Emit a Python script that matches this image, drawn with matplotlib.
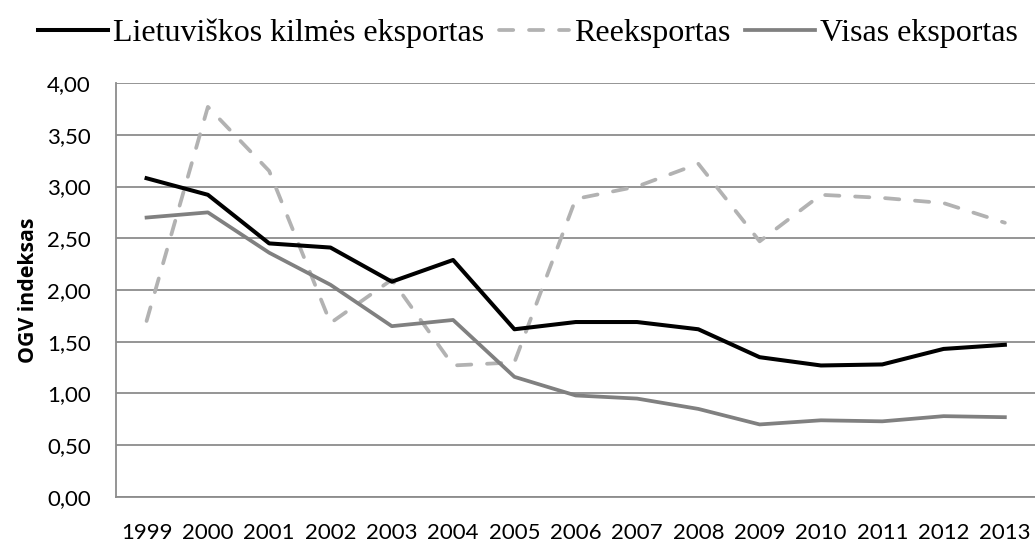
import matplotlib.pyplot as plt

years = ["1999", "2000", "2001", "2002", "2003", "2004", "2005", "2006",
         "2007", "2008", "2009", "2010", "2011", "2012", "2013"]
lietuviskos = [3.08, 2.92, 2.45, 2.41, 2.08, 2.29, 1.62, 1.69, 1.69, 1.62,
               1.35, 1.27, 1.28, 1.43, 1.47]
reeksportas = [1.70, 3.77, 3.15, 1.68, 2.10, 1.27, 1.30, 2.88, 3.00, 3.22,
               2.47, 2.92, 2.89, 2.84, 2.65]
visas = [2.70, 2.75, 2.36, 2.05, 1.65, 1.71, 1.16, 0.98, 0.95, 0.85,
         0.70, 0.74, 0.73, 0.78, 0.77]
yticks = [0, 0.5, 1.0, 1.5, 2.0, 2.5, 3.0, 3.5, 4.0]

fig = plt.figure(figsize=(10.35, 5.43), dpi=100)
ax = fig.add_axes([0.112, 0.085, 0.8885, 0.762])

x = range(len(years))
ax.plot(x, lietuviskos, color="black", lw=2.9, label="Lietuviškos kilmės eksportas", zorder=4)
ax.plot(x, reeksportas, color="#b2b2b2", lw=2.7, dashes=(3.8, 4.2), dash_capstyle="round",
        label="Reeksportas", zorder=3)
ax.plot(x, visas, color="#808080", lw=2.7, label="Visas eksportas", zorder=3)

ax.set_xlim(-0.5, len(years) - 0.5)
ax.set_ylim(0, 4)
ax.set_yticks(yticks)
ax.set_yticklabels([f"{v:.2f}".replace(".", ",") for v in yticks])
ax.set_xticks(list(x))
ax.set_xticklabels(years)
ax.grid(axis="y", color="#8c8c8c", lw=1.3)
ax.set_axisbelow(True)
for s in ["top", "right"]:
    ax.spines[s].set_visible(False)
for s in ["left", "bottom"]:
    ax.spines[s].set_color("#8c8c8c")
    ax.spines[s].set_linewidth(1.3)
ax.tick_params(length=0, labelsize=16)
ax.tick_params(axis="x", pad=19)
ax.tick_params(axis="y", pad=18)
for lab in ax.get_xticklabels() + ax.get_yticklabels():
    lab.set_fontfamily("Lato")
ax.set_ylabel("OGV indeksas", fontsize=15.3, fontweight="bold", fontfamily="Open Sans")
ax.yaxis.set_label_coords(-0.084, 0.5)

fig.legend(loc="upper center", bbox_to_anchor=(0.51, 1.018), ncol=3, frameon=False,
           prop={"family": "Liberation Serif", "size": 23}, handlelength=2.2,
           handletextpad=0.15, columnspacing=0.45)

fig.savefig("out.png", dpi=100)
